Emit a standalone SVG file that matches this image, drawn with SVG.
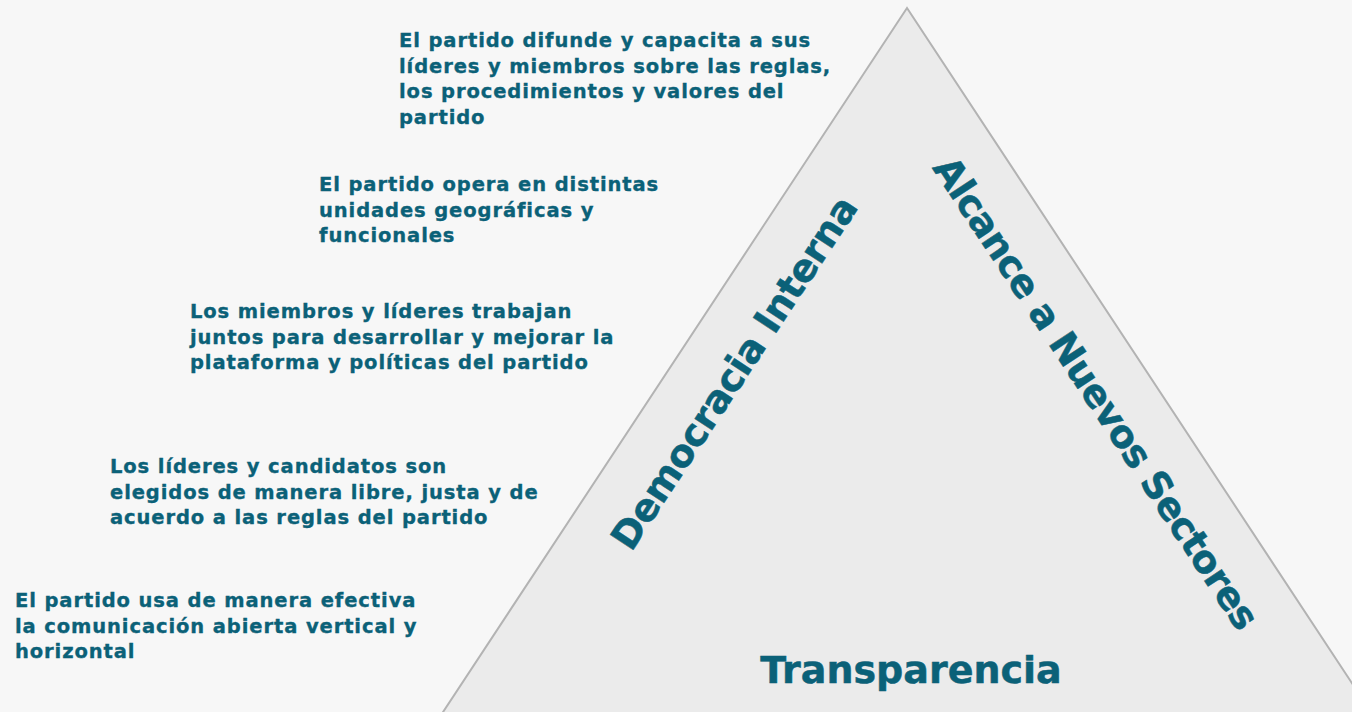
<svg xmlns="http://www.w3.org/2000/svg" width="1352" height="712" viewBox="0 0 1352 712">
<style>
.t{font-family:"DejaVu Sans",Verdana,sans-serif;font-weight:bold;fill:#0b6178;stroke:#0b6178;stroke-width:0.35px;font-size:19.5px;letter-spacing:0.9px}
.b{font-family:"DejaVu Sans",Verdana,sans-serif;font-weight:bold;fill:#0b6178;stroke:#0b6178;stroke-width:0.5px;font-size:38px}
</style>
<rect width="1352" height="712" fill="#f7f7f7"/>
<g id="triangle">
<polygon points="907,8 1396,750 418,750" fill="#ebebeb" stroke="#b3b3b3" stroke-width="2"/>
</g>
<g id="connectors"/>
<g id="label-democracia"><text class="b" text-anchor="middle" letter-spacing="-0.4" transform="translate(745,380) rotate(-56.6)">Democracia Interna</text></g>
<g id="label-alcance"><text class="b" text-anchor="middle" letter-spacing="-0.8" transform="translate(1085,400) rotate(56.6)">Alcance a Nuevos Sectores</text></g>
<g id="label-transparencia"><text class="b" x="911" y="683" text-anchor="middle">Transparencia</text></g>
<g id="text1"><text class="t" x="399" y="47"><tspan x="399">El partido difunde y capacita a sus</tspan><tspan x="399" dy="25.5">líderes y miembros sobre las reglas,</tspan><tspan x="399" dy="25.5">los procedimientos y valores del</tspan><tspan x="399" dy="25.5">partido</tspan></text></g>
<g id="text2"><text class="t" x="319" y="191"><tspan x="319">El partido opera en distintas</tspan><tspan x="319" dy="25.5">unidades geográficas y</tspan><tspan x="319" dy="25.5">funcionales</tspan></text></g>
<g id="text3"><text class="t" x="190" y="318"><tspan x="190">Los miembros y líderes trabajan</tspan><tspan x="190" dy="25.5">juntos para desarrollar y mejorar la</tspan><tspan x="190" dy="25.5">plataforma y políticas del partido</tspan></text></g>
<g id="text4"><text class="t" x="110" y="473"><tspan x="110">Los líderes y candidatos son</tspan><tspan x="110" dy="25.5">elegidos de manera libre, justa y de</tspan><tspan x="110" dy="25.5">acuerdo a las reglas del partido</tspan></text></g>
<g id="text5"><text class="t" x="15" y="607"><tspan x="15">El partido usa de manera efectiva</tspan><tspan x="15" dy="25.5">la comunicación abierta vertical y</tspan><tspan x="15" dy="25.5">horizontal</tspan></text></g>
</svg>
